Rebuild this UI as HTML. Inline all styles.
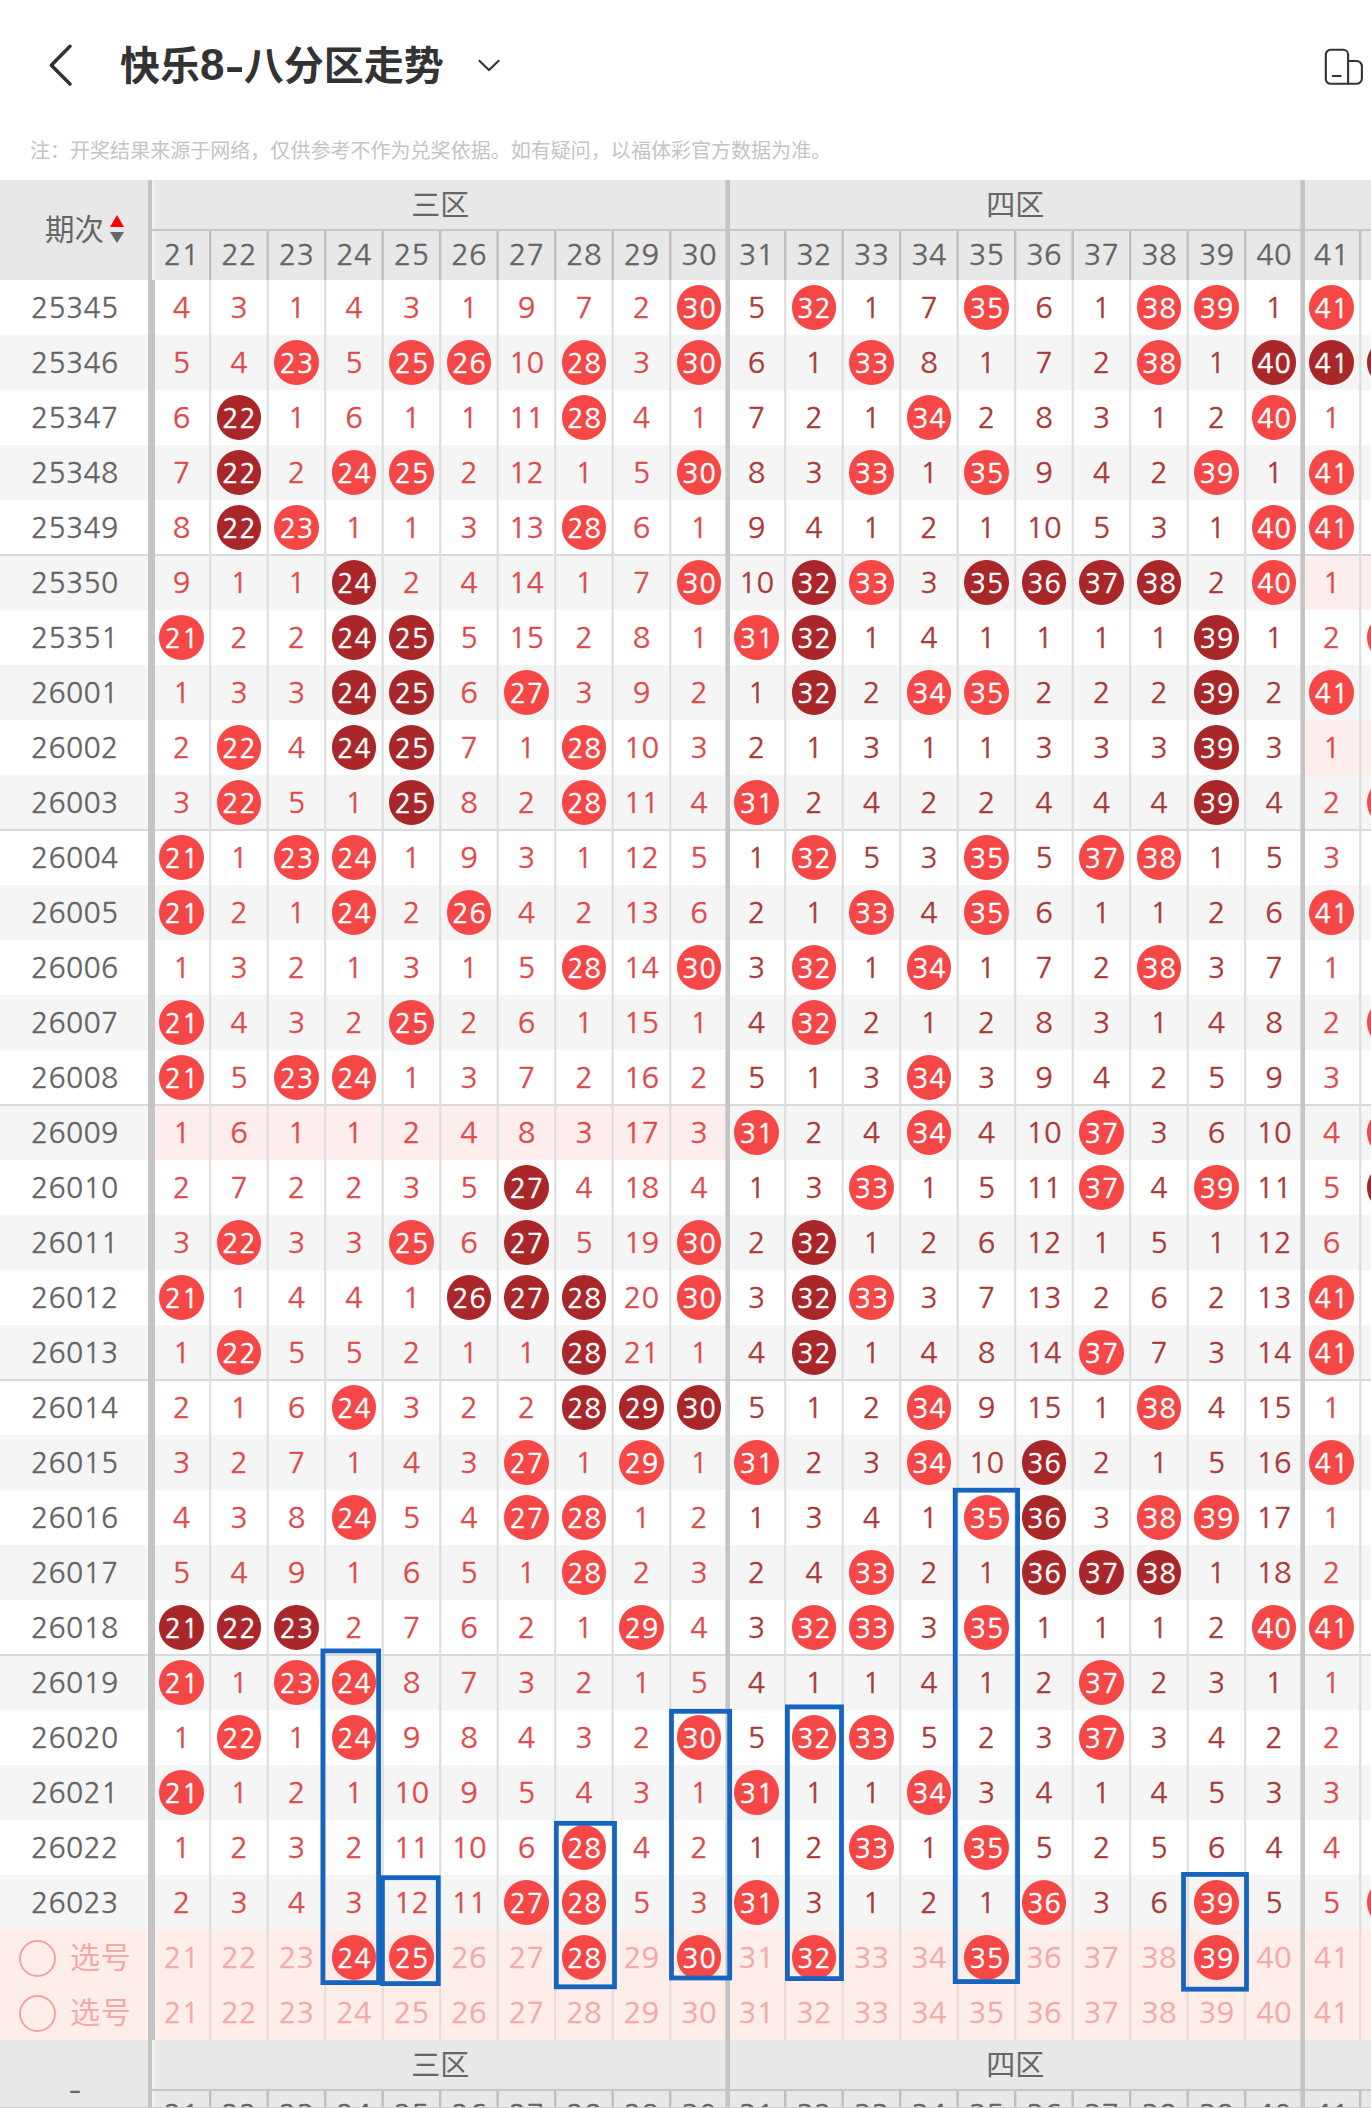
<!DOCTYPE html>
<html lang="zh-CN">
<head>
<meta charset="utf-8">
<title>快乐8-八分区走势</title>
<style>
*{margin:0;padding:0;box-sizing:border-box}
html,body{width:1371px;height:2108px;background:#fff;overflow:hidden}
body{position:relative;font-family:"Liberation Sans","Noto Sans CJK SC",sans-serif;color:#333;font-kerning:none}
#pg{position:absolute;left:0;top:0;width:1371px;height:2108px;overflow:hidden;background:#fff}
#pg i{position:absolute;display:block}
.title{position:absolute;left:120px;top:37px;height:58px;line-height:58px;font-size:40px;font-weight:bold;color:#333;white-space:nowrap;letter-spacing:0}
.t8{font-size:44px;line-height:40px}
.hy{display:inline-block;transform:scaleX(1.45);margin:0 2.5px 0 3.5px}
.note{position:absolute;left:30px;top:136px;height:30px;line-height:30px;font-size:20px;color:#c4c4c4;white-space:nowrap;letter-spacing:.03px}
svg.ic{position:absolute;overflow:visible}
.hbg{position:absolute;left:0;width:1371px;background:#e8e8e8}
.row{position:absolute;left:0;width:1371px;height:55px;line-height:55px;white-space:nowrap}
.rw{background:#fff}.rg{background:#f5f5f5}.rs{background:#ffede9}
.per{position:absolute;left:0;top:.7px;width:149.5px;text-align:center;font-family:NanumGothic,"Liberation Sans",sans-serif;font-size:28.4px;letter-spacing:.25px;color:#646464;-webkit-text-stroke:.3px}
.pk{top:0;height:55px;background:#fdeded}
.n{position:absolute;top:0;width:57.5px;text-align:center;font-family:NanumGothic,"Liberation Sans",sans-serif;font-size:29px;-webkit-text-stroke:.42px}
.z0{color:#dd4a4d}.z1{color:#a93a3a}.zs{color:#f3a9a9}
.c{position:absolute;top:5.3px;width:44.5px;height:44.5px;line-height:48px;padding-left:1px;letter-spacing:1px;border-radius:50%;text-align:center;color:#fff;font-family:NanumGothic,"Liberation Sans",sans-serif;font-size:26.7px;font-weight:normal;-webkit-text-stroke:.6px}
.c.l{background:#f64747}.c.d{background:#a92629}
.radio{left:19px;top:9.5px;width:37px;height:37px;border:2px solid #f2a3a3;border-radius:50%}
.xh{position:absolute;left:70px;top:0;font-size:30px;letter-spacing:.8px;color:#f3a9a9}
.hz{position:absolute;height:50px;line-height:52px;text-align:center;font-size:29px;color:#666}
.hn{position:absolute;width:57.5px;height:50px;line-height:50px;text-align:center;font-family:NanumGothic,"Liberation Sans",sans-serif;font-size:29px;color:#646464;-webkit-text-stroke:.4px}
.qc{position:absolute;left:45px;top:205px;height:50px;line-height:50px;font-size:29.5px;color:#666}
.tu{left:110px;top:215px;width:0;height:0;border-left:7.6px solid transparent;border-right:7.6px solid transparent;border-bottom:12.8px solid #f00}
.td{left:110px;top:232.4px;width:0;height:0;border-left:7.6px solid transparent;border-right:7.6px solid transparent;border-top:11.8px solid #666}
.dash{position:absolute;left:0;top:2065px;width:150px;height:50px;line-height:50px;text-align:center;font-size:30px;color:#666;transform:scaleX(1.3)}
.hl{left:0;width:1371px;height:2.2px;background:#d9d9d9}
.hh{left:152px;width:1219px;height:2px;background:#c6c6c6}
.v0{left:147.7px;width:7.2px;background:#c4c4c4}
.v0h{left:152.3px;width:2.7px;background:#f1f1f1}
.btm{left:0;top:2106.5px;width:1371px;height:1.5px;background:#cfcfcf}
</style>
</head>
<body>
<div id="pg">
<svg class="ic" style="left:40px;top:36px" width="40" height="58" viewBox="40 36 40 58"><path d="M70 46.3 L51.3 65.3 L70 84" fill="none" stroke="#333" stroke-width="3.6" stroke-linecap="round" stroke-linejoin="round"/></svg>
<div class="title">快乐<span class="t8">8</span><span class="hy">-</span>八分区走势</div>
<svg class="ic" style="left:470px;top:50px" width="40" height="30" viewBox="470 50 40 30"><path d="M478.8 60.3 L489 70 L499.2 60.3" fill="none" stroke="#333" stroke-width="2.1" stroke-linecap="butt" stroke-linejoin="miter"/></svg>
<svg class="ic" style="left:1315px;top:40px" width="56" height="56" viewBox="1315 40 56 56"><path d="M1330.6 49.8 H1343.3 A4.8 4.8 0 0 1 1348.1 54.6 V83.8 H1330.6 A4.8 4.8 0 0 1 1325.8 79 V54.6 A4.8 4.8 0 0 1 1330.6 49.8 Z" fill="none" stroke="#333" stroke-width="2.1" stroke-linejoin="round"/><path d="M1348.1 61 H1356.5 A5.4 5.4 0 0 1 1361.9 66.4 V78.4 A5.4 5.4 0 0 1 1356.5 83.8 H1348" fill="none" stroke="#333" stroke-width="2.1"/><path d="M1332.8 76 H1340.6" stroke="#333" stroke-width="2.2" stroke-linecap="round"/></svg>
<div class="note">注：开奖结果来源于网络，仅供参考不作为兑奖依据。如有疑问，以福体彩官方数据为准。</div>
<div class="hbg" style="top:180px;height:100px"></div>
<div class="hbg" style="top:2040px;height:68px"></div>
<div class="row rw" style="top:280px">
<span class="per">25345</span>
<span class="n z0" style="left:152.7px">4</span>
<span class="n z0" style="left:210.2px">3</span>
<span class="n z0" style="left:267.7px">1</span>
<span class="n z0" style="left:325.2px">4</span>
<span class="n z0" style="left:382.7px">3</span>
<span class="n z0" style="left:440.2px">1</span>
<span class="n z0" style="left:497.7px">9</span>
<span class="n z0" style="left:555.2px">7</span>
<span class="n z0" style="left:612.7px">2</span>
<b class="c l" style="left:676.7px">30</b>
<span class="n z1" style="left:727.7px">5</span>
<b class="c l" style="left:791.7px">32</b>
<span class="n z1" style="left:842.7px">1</span>
<span class="n z1" style="left:900.2px">7</span>
<b class="c l" style="left:964.2px">35</b>
<span class="n z1" style="left:1015.2px">6</span>
<span class="n z1" style="left:1072.7px">1</span>
<b class="c l" style="left:1136.7px">38</b>
<b class="c l" style="left:1194.2px">39</b>
<span class="n z1" style="left:1245.2px">1</span>
<b class="c l" style="left:1309.2px">41</b>
</div>
<div class="row rg" style="top:335px">
<span class="per">25346</span>
<span class="n z0" style="left:152.7px">5</span>
<span class="n z0" style="left:210.2px">4</span>
<b class="c l" style="left:274.2px">23</b>
<span class="n z0" style="left:325.2px">5</span>
<b class="c l" style="left:389.2px">25</b>
<b class="c l" style="left:446.7px">26</b>
<span class="n z0" style="left:497.7px">10</span>
<b class="c l" style="left:561.7px">28</b>
<span class="n z0" style="left:612.7px">3</span>
<b class="c l" style="left:676.7px">30</b>
<span class="n z1" style="left:727.7px">6</span>
<span class="n z1" style="left:785.2px">1</span>
<b class="c l" style="left:849.2px">33</b>
<span class="n z1" style="left:900.2px">8</span>
<span class="n z1" style="left:957.7px">1</span>
<span class="n z1" style="left:1015.2px">7</span>
<span class="n z1" style="left:1072.7px">2</span>
<b class="c l" style="left:1136.7px">38</b>
<span class="n z1" style="left:1187.7px">1</span>
<b class="c d" style="left:1251.7px">40</b>
<b class="c d" style="left:1309.2px">41</b>
<b class="c d" style="left:1366.7px">42</b>
</div>
<div class="row rw" style="top:390px">
<span class="per">25347</span>
<span class="n z0" style="left:152.7px">6</span>
<b class="c d" style="left:216.7px">22</b>
<span class="n z0" style="left:267.7px">1</span>
<span class="n z0" style="left:325.2px">6</span>
<span class="n z0" style="left:382.7px">1</span>
<span class="n z0" style="left:440.2px">1</span>
<span class="n z0" style="left:497.7px">11</span>
<b class="c l" style="left:561.7px">28</b>
<span class="n z0" style="left:612.7px">4</span>
<span class="n z0" style="left:670.2px">1</span>
<span class="n z1" style="left:727.7px">7</span>
<span class="n z1" style="left:785.2px">2</span>
<span class="n z1" style="left:842.7px">1</span>
<b class="c l" style="left:906.7px">34</b>
<span class="n z1" style="left:957.7px">2</span>
<span class="n z1" style="left:1015.2px">8</span>
<span class="n z1" style="left:1072.7px">3</span>
<span class="n z1" style="left:1130.2px">1</span>
<span class="n z1" style="left:1187.7px">2</span>
<b class="c l" style="left:1251.7px">40</b>
<span class="n z0" style="left:1302.7px">1</span>
</div>
<div class="row rg" style="top:445px">
<span class="per">25348</span>
<span class="n z0" style="left:152.7px">7</span>
<b class="c d" style="left:216.7px">22</b>
<span class="n z0" style="left:267.7px">2</span>
<b class="c l" style="left:331.7px">24</b>
<b class="c l" style="left:389.2px">25</b>
<span class="n z0" style="left:440.2px">2</span>
<span class="n z0" style="left:497.7px">12</span>
<span class="n z0" style="left:555.2px">1</span>
<span class="n z0" style="left:612.7px">5</span>
<b class="c l" style="left:676.7px">30</b>
<span class="n z1" style="left:727.7px">8</span>
<span class="n z1" style="left:785.2px">3</span>
<b class="c l" style="left:849.2px">33</b>
<span class="n z1" style="left:900.2px">1</span>
<b class="c l" style="left:964.2px">35</b>
<span class="n z1" style="left:1015.2px">9</span>
<span class="n z1" style="left:1072.7px">4</span>
<span class="n z1" style="left:1130.2px">2</span>
<b class="c l" style="left:1194.2px">39</b>
<span class="n z1" style="left:1245.2px">1</span>
<b class="c l" style="left:1309.2px">41</b>
</div>
<div class="row rw" style="top:500px">
<span class="per">25349</span>
<span class="n z0" style="left:152.7px">8</span>
<b class="c d" style="left:216.7px">22</b>
<b class="c l" style="left:274.2px">23</b>
<span class="n z0" style="left:325.2px">1</span>
<span class="n z0" style="left:382.7px">1</span>
<span class="n z0" style="left:440.2px">3</span>
<span class="n z0" style="left:497.7px">13</span>
<b class="c l" style="left:561.7px">28</b>
<span class="n z0" style="left:612.7px">6</span>
<span class="n z0" style="left:670.2px">1</span>
<span class="n z1" style="left:727.7px">9</span>
<span class="n z1" style="left:785.2px">4</span>
<span class="n z1" style="left:842.7px">1</span>
<span class="n z1" style="left:900.2px">2</span>
<span class="n z1" style="left:957.7px">1</span>
<span class="n z1" style="left:1015.2px">10</span>
<span class="n z1" style="left:1072.7px">5</span>
<span class="n z1" style="left:1130.2px">3</span>
<span class="n z1" style="left:1187.7px">1</span>
<b class="c l" style="left:1251.7px">40</b>
<b class="c l" style="left:1309.2px">41</b>
</div>
<div class="row rg" style="top:555px">
<span class="per">25350</span>
<i class="pk" style="left:1302.7px;width:68.3px"></i>
<span class="n z0" style="left:152.7px">9</span>
<span class="n z0" style="left:210.2px">1</span>
<span class="n z0" style="left:267.7px">1</span>
<b class="c d" style="left:331.7px">24</b>
<span class="n z0" style="left:382.7px">2</span>
<span class="n z0" style="left:440.2px">4</span>
<span class="n z0" style="left:497.7px">14</span>
<span class="n z0" style="left:555.2px">1</span>
<span class="n z0" style="left:612.7px">7</span>
<b class="c l" style="left:676.7px">30</b>
<span class="n z1" style="left:727.7px">10</span>
<b class="c d" style="left:791.7px">32</b>
<b class="c l" style="left:849.2px">33</b>
<span class="n z1" style="left:900.2px">3</span>
<b class="c d" style="left:964.2px">35</b>
<b class="c d" style="left:1021.7px">36</b>
<b class="c d" style="left:1079.2px">37</b>
<b class="c d" style="left:1136.7px">38</b>
<span class="n z1" style="left:1187.7px">2</span>
<b class="c l" style="left:1251.7px">40</b>
<span class="n z0" style="left:1302.7px">1</span>
</div>
<div class="row rw" style="top:610px">
<span class="per">25351</span>
<b class="c l" style="left:159.2px">21</b>
<span class="n z0" style="left:210.2px">2</span>
<span class="n z0" style="left:267.7px">2</span>
<b class="c d" style="left:331.7px">24</b>
<b class="c d" style="left:389.2px">25</b>
<span class="n z0" style="left:440.2px">5</span>
<span class="n z0" style="left:497.7px">15</span>
<span class="n z0" style="left:555.2px">2</span>
<span class="n z0" style="left:612.7px">8</span>
<span class="n z0" style="left:670.2px">1</span>
<b class="c l" style="left:734.2px">31</b>
<b class="c d" style="left:791.7px">32</b>
<span class="n z1" style="left:842.7px">1</span>
<span class="n z1" style="left:900.2px">4</span>
<span class="n z1" style="left:957.7px">1</span>
<span class="n z1" style="left:1015.2px">1</span>
<span class="n z1" style="left:1072.7px">1</span>
<span class="n z1" style="left:1130.2px">1</span>
<b class="c d" style="left:1194.2px">39</b>
<span class="n z1" style="left:1245.2px">1</span>
<span class="n z0" style="left:1302.7px">2</span>
<b class="c l" style="left:1366.7px">42</b>
</div>
<div class="row rg" style="top:665px">
<span class="per">26001</span>
<span class="n z0" style="left:152.7px">1</span>
<span class="n z0" style="left:210.2px">3</span>
<span class="n z0" style="left:267.7px">3</span>
<b class="c d" style="left:331.7px">24</b>
<b class="c d" style="left:389.2px">25</b>
<span class="n z0" style="left:440.2px">6</span>
<b class="c l" style="left:504.2px">27</b>
<span class="n z0" style="left:555.2px">3</span>
<span class="n z0" style="left:612.7px">9</span>
<span class="n z0" style="left:670.2px">2</span>
<span class="n z1" style="left:727.7px">1</span>
<b class="c d" style="left:791.7px">32</b>
<span class="n z1" style="left:842.7px">2</span>
<b class="c l" style="left:906.7px">34</b>
<b class="c l" style="left:964.2px">35</b>
<span class="n z1" style="left:1015.2px">2</span>
<span class="n z1" style="left:1072.7px">2</span>
<span class="n z1" style="left:1130.2px">2</span>
<b class="c d" style="left:1194.2px">39</b>
<span class="n z1" style="left:1245.2px">2</span>
<b class="c l" style="left:1309.2px">41</b>
</div>
<div class="row rw" style="top:720px">
<span class="per">26002</span>
<i class="pk" style="left:1302.7px;width:68.3px"></i>
<span class="n z0" style="left:152.7px">2</span>
<b class="c l" style="left:216.7px">22</b>
<span class="n z0" style="left:267.7px">4</span>
<b class="c d" style="left:331.7px">24</b>
<b class="c d" style="left:389.2px">25</b>
<span class="n z0" style="left:440.2px">7</span>
<span class="n z0" style="left:497.7px">1</span>
<b class="c l" style="left:561.7px">28</b>
<span class="n z0" style="left:612.7px">10</span>
<span class="n z0" style="left:670.2px">3</span>
<span class="n z1" style="left:727.7px">2</span>
<span class="n z1" style="left:785.2px">1</span>
<span class="n z1" style="left:842.7px">3</span>
<span class="n z1" style="left:900.2px">1</span>
<span class="n z1" style="left:957.7px">1</span>
<span class="n z1" style="left:1015.2px">3</span>
<span class="n z1" style="left:1072.7px">3</span>
<span class="n z1" style="left:1130.2px">3</span>
<b class="c d" style="left:1194.2px">39</b>
<span class="n z1" style="left:1245.2px">3</span>
<span class="n z0" style="left:1302.7px">1</span>
</div>
<div class="row rg" style="top:775px">
<span class="per">26003</span>
<span class="n z0" style="left:152.7px">3</span>
<b class="c l" style="left:216.7px">22</b>
<span class="n z0" style="left:267.7px">5</span>
<span class="n z0" style="left:325.2px">1</span>
<b class="c d" style="left:389.2px">25</b>
<span class="n z0" style="left:440.2px">8</span>
<span class="n z0" style="left:497.7px">2</span>
<b class="c l" style="left:561.7px">28</b>
<span class="n z0" style="left:612.7px">11</span>
<span class="n z0" style="left:670.2px">4</span>
<b class="c l" style="left:734.2px">31</b>
<span class="n z1" style="left:785.2px">2</span>
<span class="n z1" style="left:842.7px">4</span>
<span class="n z1" style="left:900.2px">2</span>
<span class="n z1" style="left:957.7px">2</span>
<span class="n z1" style="left:1015.2px">4</span>
<span class="n z1" style="left:1072.7px">4</span>
<span class="n z1" style="left:1130.2px">4</span>
<b class="c d" style="left:1194.2px">39</b>
<span class="n z1" style="left:1245.2px">4</span>
<span class="n z0" style="left:1302.7px">2</span>
<b class="c l" style="left:1366.7px">42</b>
</div>
<div class="row rw" style="top:830px">
<span class="per">26004</span>
<b class="c l" style="left:159.2px">21</b>
<span class="n z0" style="left:210.2px">1</span>
<b class="c l" style="left:274.2px">23</b>
<b class="c l" style="left:331.7px">24</b>
<span class="n z0" style="left:382.7px">1</span>
<span class="n z0" style="left:440.2px">9</span>
<span class="n z0" style="left:497.7px">3</span>
<span class="n z0" style="left:555.2px">1</span>
<span class="n z0" style="left:612.7px">12</span>
<span class="n z0" style="left:670.2px">5</span>
<span class="n z1" style="left:727.7px">1</span>
<b class="c l" style="left:791.7px">32</b>
<span class="n z1" style="left:842.7px">5</span>
<span class="n z1" style="left:900.2px">3</span>
<b class="c l" style="left:964.2px">35</b>
<span class="n z1" style="left:1015.2px">5</span>
<b class="c l" style="left:1079.2px">37</b>
<b class="c l" style="left:1136.7px">38</b>
<span class="n z1" style="left:1187.7px">1</span>
<span class="n z1" style="left:1245.2px">5</span>
<span class="n z0" style="left:1302.7px">3</span>
</div>
<div class="row rg" style="top:885px">
<span class="per">26005</span>
<b class="c l" style="left:159.2px">21</b>
<span class="n z0" style="left:210.2px">2</span>
<span class="n z0" style="left:267.7px">1</span>
<b class="c l" style="left:331.7px">24</b>
<span class="n z0" style="left:382.7px">2</span>
<b class="c l" style="left:446.7px">26</b>
<span class="n z0" style="left:497.7px">4</span>
<span class="n z0" style="left:555.2px">2</span>
<span class="n z0" style="left:612.7px">13</span>
<span class="n z0" style="left:670.2px">6</span>
<span class="n z1" style="left:727.7px">2</span>
<span class="n z1" style="left:785.2px">1</span>
<b class="c l" style="left:849.2px">33</b>
<span class="n z1" style="left:900.2px">4</span>
<b class="c l" style="left:964.2px">35</b>
<span class="n z1" style="left:1015.2px">6</span>
<span class="n z1" style="left:1072.7px">1</span>
<span class="n z1" style="left:1130.2px">1</span>
<span class="n z1" style="left:1187.7px">2</span>
<span class="n z1" style="left:1245.2px">6</span>
<b class="c l" style="left:1309.2px">41</b>
</div>
<div class="row rw" style="top:940px">
<span class="per">26006</span>
<span class="n z0" style="left:152.7px">1</span>
<span class="n z0" style="left:210.2px">3</span>
<span class="n z0" style="left:267.7px">2</span>
<span class="n z0" style="left:325.2px">1</span>
<span class="n z0" style="left:382.7px">3</span>
<span class="n z0" style="left:440.2px">1</span>
<span class="n z0" style="left:497.7px">5</span>
<b class="c l" style="left:561.7px">28</b>
<span class="n z0" style="left:612.7px">14</span>
<b class="c l" style="left:676.7px">30</b>
<span class="n z1" style="left:727.7px">3</span>
<b class="c l" style="left:791.7px">32</b>
<span class="n z1" style="left:842.7px">1</span>
<b class="c l" style="left:906.7px">34</b>
<span class="n z1" style="left:957.7px">1</span>
<span class="n z1" style="left:1015.2px">7</span>
<span class="n z1" style="left:1072.7px">2</span>
<b class="c l" style="left:1136.7px">38</b>
<span class="n z1" style="left:1187.7px">3</span>
<span class="n z1" style="left:1245.2px">7</span>
<span class="n z0" style="left:1302.7px">1</span>
</div>
<div class="row rg" style="top:995px">
<span class="per">26007</span>
<b class="c l" style="left:159.2px">21</b>
<span class="n z0" style="left:210.2px">4</span>
<span class="n z0" style="left:267.7px">3</span>
<span class="n z0" style="left:325.2px">2</span>
<b class="c l" style="left:389.2px">25</b>
<span class="n z0" style="left:440.2px">2</span>
<span class="n z0" style="left:497.7px">6</span>
<span class="n z0" style="left:555.2px">1</span>
<span class="n z0" style="left:612.7px">15</span>
<span class="n z0" style="left:670.2px">1</span>
<span class="n z1" style="left:727.7px">4</span>
<b class="c l" style="left:791.7px">32</b>
<span class="n z1" style="left:842.7px">2</span>
<span class="n z1" style="left:900.2px">1</span>
<span class="n z1" style="left:957.7px">2</span>
<span class="n z1" style="left:1015.2px">8</span>
<span class="n z1" style="left:1072.7px">3</span>
<span class="n z1" style="left:1130.2px">1</span>
<span class="n z1" style="left:1187.7px">4</span>
<span class="n z1" style="left:1245.2px">8</span>
<span class="n z0" style="left:1302.7px">2</span>
<b class="c l" style="left:1366.7px">42</b>
</div>
<div class="row rw" style="top:1050px">
<span class="per">26008</span>
<b class="c l" style="left:159.2px">21</b>
<span class="n z0" style="left:210.2px">5</span>
<b class="c l" style="left:274.2px">23</b>
<b class="c l" style="left:331.7px">24</b>
<span class="n z0" style="left:382.7px">1</span>
<span class="n z0" style="left:440.2px">3</span>
<span class="n z0" style="left:497.7px">7</span>
<span class="n z0" style="left:555.2px">2</span>
<span class="n z0" style="left:612.7px">16</span>
<span class="n z0" style="left:670.2px">2</span>
<span class="n z1" style="left:727.7px">5</span>
<span class="n z1" style="left:785.2px">1</span>
<span class="n z1" style="left:842.7px">3</span>
<b class="c l" style="left:906.7px">34</b>
<span class="n z1" style="left:957.7px">3</span>
<span class="n z1" style="left:1015.2px">9</span>
<span class="n z1" style="left:1072.7px">4</span>
<span class="n z1" style="left:1130.2px">2</span>
<span class="n z1" style="left:1187.7px">5</span>
<span class="n z1" style="left:1245.2px">9</span>
<span class="n z0" style="left:1302.7px">3</span>
</div>
<div class="row rg" style="top:1105px">
<span class="per">26009</span>
<i class="pk" style="left:152.7px;width:575px"></i>
<span class="n z0" style="left:152.7px">1</span>
<span class="n z0" style="left:210.2px">6</span>
<span class="n z0" style="left:267.7px">1</span>
<span class="n z0" style="left:325.2px">1</span>
<span class="n z0" style="left:382.7px">2</span>
<span class="n z0" style="left:440.2px">4</span>
<span class="n z0" style="left:497.7px">8</span>
<span class="n z0" style="left:555.2px">3</span>
<span class="n z0" style="left:612.7px">17</span>
<span class="n z0" style="left:670.2px">3</span>
<b class="c l" style="left:734.2px">31</b>
<span class="n z1" style="left:785.2px">2</span>
<span class="n z1" style="left:842.7px">4</span>
<b class="c l" style="left:906.7px">34</b>
<span class="n z1" style="left:957.7px">4</span>
<span class="n z1" style="left:1015.2px">10</span>
<b class="c l" style="left:1079.2px">37</b>
<span class="n z1" style="left:1130.2px">3</span>
<span class="n z1" style="left:1187.7px">6</span>
<span class="n z1" style="left:1245.2px">10</span>
<span class="n z0" style="left:1302.7px">4</span>
<b class="c l" style="left:1366.7px">42</b>
</div>
<div class="row rw" style="top:1160px">
<span class="per">26010</span>
<span class="n z0" style="left:152.7px">2</span>
<span class="n z0" style="left:210.2px">7</span>
<span class="n z0" style="left:267.7px">2</span>
<span class="n z0" style="left:325.2px">2</span>
<span class="n z0" style="left:382.7px">3</span>
<span class="n z0" style="left:440.2px">5</span>
<b class="c d" style="left:504.2px">27</b>
<span class="n z0" style="left:555.2px">4</span>
<span class="n z0" style="left:612.7px">18</span>
<span class="n z0" style="left:670.2px">4</span>
<span class="n z1" style="left:727.7px">1</span>
<span class="n z1" style="left:785.2px">3</span>
<b class="c l" style="left:849.2px">33</b>
<span class="n z1" style="left:900.2px">1</span>
<span class="n z1" style="left:957.7px">5</span>
<span class="n z1" style="left:1015.2px">11</span>
<b class="c l" style="left:1079.2px">37</b>
<span class="n z1" style="left:1130.2px">4</span>
<b class="c l" style="left:1194.2px">39</b>
<span class="n z1" style="left:1245.2px">11</span>
<span class="n z0" style="left:1302.7px">5</span>
<b class="c d" style="left:1366.7px">42</b>
</div>
<div class="row rg" style="top:1215px">
<span class="per">26011</span>
<span class="n z0" style="left:152.7px">3</span>
<b class="c l" style="left:216.7px">22</b>
<span class="n z0" style="left:267.7px">3</span>
<span class="n z0" style="left:325.2px">3</span>
<b class="c l" style="left:389.2px">25</b>
<span class="n z0" style="left:440.2px">6</span>
<b class="c d" style="left:504.2px">27</b>
<span class="n z0" style="left:555.2px">5</span>
<span class="n z0" style="left:612.7px">19</span>
<b class="c l" style="left:676.7px">30</b>
<span class="n z1" style="left:727.7px">2</span>
<b class="c d" style="left:791.7px">32</b>
<span class="n z1" style="left:842.7px">1</span>
<span class="n z1" style="left:900.2px">2</span>
<span class="n z1" style="left:957.7px">6</span>
<span class="n z1" style="left:1015.2px">12</span>
<span class="n z1" style="left:1072.7px">1</span>
<span class="n z1" style="left:1130.2px">5</span>
<span class="n z1" style="left:1187.7px">1</span>
<span class="n z1" style="left:1245.2px">12</span>
<span class="n z0" style="left:1302.7px">6</span>
</div>
<div class="row rw" style="top:1270px">
<span class="per">26012</span>
<b class="c l" style="left:159.2px">21</b>
<span class="n z0" style="left:210.2px">1</span>
<span class="n z0" style="left:267.7px">4</span>
<span class="n z0" style="left:325.2px">4</span>
<span class="n z0" style="left:382.7px">1</span>
<b class="c d" style="left:446.7px">26</b>
<b class="c d" style="left:504.2px">27</b>
<b class="c d" style="left:561.7px">28</b>
<span class="n z0" style="left:612.7px">20</span>
<b class="c l" style="left:676.7px">30</b>
<span class="n z1" style="left:727.7px">3</span>
<b class="c d" style="left:791.7px">32</b>
<b class="c l" style="left:849.2px">33</b>
<span class="n z1" style="left:900.2px">3</span>
<span class="n z1" style="left:957.7px">7</span>
<span class="n z1" style="left:1015.2px">13</span>
<span class="n z1" style="left:1072.7px">2</span>
<span class="n z1" style="left:1130.2px">6</span>
<span class="n z1" style="left:1187.7px">2</span>
<span class="n z1" style="left:1245.2px">13</span>
<b class="c l" style="left:1309.2px">41</b>
</div>
<div class="row rg" style="top:1325px">
<span class="per">26013</span>
<span class="n z0" style="left:152.7px">1</span>
<b class="c l" style="left:216.7px">22</b>
<span class="n z0" style="left:267.7px">5</span>
<span class="n z0" style="left:325.2px">5</span>
<span class="n z0" style="left:382.7px">2</span>
<span class="n z0" style="left:440.2px">1</span>
<span class="n z0" style="left:497.7px">1</span>
<b class="c d" style="left:561.7px">28</b>
<span class="n z0" style="left:612.7px">21</span>
<span class="n z0" style="left:670.2px">1</span>
<span class="n z1" style="left:727.7px">4</span>
<b class="c d" style="left:791.7px">32</b>
<span class="n z1" style="left:842.7px">1</span>
<span class="n z1" style="left:900.2px">4</span>
<span class="n z1" style="left:957.7px">8</span>
<span class="n z1" style="left:1015.2px">14</span>
<b class="c l" style="left:1079.2px">37</b>
<span class="n z1" style="left:1130.2px">7</span>
<span class="n z1" style="left:1187.7px">3</span>
<span class="n z1" style="left:1245.2px">14</span>
<b class="c l" style="left:1309.2px">41</b>
</div>
<div class="row rw" style="top:1380px">
<span class="per">26014</span>
<span class="n z0" style="left:152.7px">2</span>
<span class="n z0" style="left:210.2px">1</span>
<span class="n z0" style="left:267.7px">6</span>
<b class="c l" style="left:331.7px">24</b>
<span class="n z0" style="left:382.7px">3</span>
<span class="n z0" style="left:440.2px">2</span>
<span class="n z0" style="left:497.7px">2</span>
<b class="c d" style="left:561.7px">28</b>
<b class="c d" style="left:619.2px">29</b>
<b class="c d" style="left:676.7px">30</b>
<span class="n z1" style="left:727.7px">5</span>
<span class="n z1" style="left:785.2px">1</span>
<span class="n z1" style="left:842.7px">2</span>
<b class="c l" style="left:906.7px">34</b>
<span class="n z1" style="left:957.7px">9</span>
<span class="n z1" style="left:1015.2px">15</span>
<span class="n z1" style="left:1072.7px">1</span>
<b class="c l" style="left:1136.7px">38</b>
<span class="n z1" style="left:1187.7px">4</span>
<span class="n z1" style="left:1245.2px">15</span>
<span class="n z0" style="left:1302.7px">1</span>
</div>
<div class="row rg" style="top:1435px">
<span class="per">26015</span>
<span class="n z0" style="left:152.7px">3</span>
<span class="n z0" style="left:210.2px">2</span>
<span class="n z0" style="left:267.7px">7</span>
<span class="n z0" style="left:325.2px">1</span>
<span class="n z0" style="left:382.7px">4</span>
<span class="n z0" style="left:440.2px">3</span>
<b class="c l" style="left:504.2px">27</b>
<span class="n z0" style="left:555.2px">1</span>
<b class="c l" style="left:619.2px">29</b>
<span class="n z0" style="left:670.2px">1</span>
<b class="c l" style="left:734.2px">31</b>
<span class="n z1" style="left:785.2px">2</span>
<span class="n z1" style="left:842.7px">3</span>
<b class="c l" style="left:906.7px">34</b>
<span class="n z1" style="left:957.7px">10</span>
<b class="c d" style="left:1021.7px">36</b>
<span class="n z1" style="left:1072.7px">2</span>
<span class="n z1" style="left:1130.2px">1</span>
<span class="n z1" style="left:1187.7px">5</span>
<span class="n z1" style="left:1245.2px">16</span>
<b class="c l" style="left:1309.2px">41</b>
</div>
<div class="row rw" style="top:1490px">
<span class="per">26016</span>
<span class="n z0" style="left:152.7px">4</span>
<span class="n z0" style="left:210.2px">3</span>
<span class="n z0" style="left:267.7px">8</span>
<b class="c l" style="left:331.7px">24</b>
<span class="n z0" style="left:382.7px">5</span>
<span class="n z0" style="left:440.2px">4</span>
<b class="c l" style="left:504.2px">27</b>
<b class="c l" style="left:561.7px">28</b>
<span class="n z0" style="left:612.7px">1</span>
<span class="n z0" style="left:670.2px">2</span>
<span class="n z1" style="left:727.7px">1</span>
<span class="n z1" style="left:785.2px">3</span>
<span class="n z1" style="left:842.7px">4</span>
<span class="n z1" style="left:900.2px">1</span>
<b class="c l" style="left:964.2px">35</b>
<b class="c d" style="left:1021.7px">36</b>
<span class="n z1" style="left:1072.7px">3</span>
<b class="c l" style="left:1136.7px">38</b>
<b class="c l" style="left:1194.2px">39</b>
<span class="n z1" style="left:1245.2px">17</span>
<span class="n z0" style="left:1302.7px">1</span>
</div>
<div class="row rg" style="top:1545px">
<span class="per">26017</span>
<span class="n z0" style="left:152.7px">5</span>
<span class="n z0" style="left:210.2px">4</span>
<span class="n z0" style="left:267.7px">9</span>
<span class="n z0" style="left:325.2px">1</span>
<span class="n z0" style="left:382.7px">6</span>
<span class="n z0" style="left:440.2px">5</span>
<span class="n z0" style="left:497.7px">1</span>
<b class="c l" style="left:561.7px">28</b>
<span class="n z0" style="left:612.7px">2</span>
<span class="n z0" style="left:670.2px">3</span>
<span class="n z1" style="left:727.7px">2</span>
<span class="n z1" style="left:785.2px">4</span>
<b class="c l" style="left:849.2px">33</b>
<span class="n z1" style="left:900.2px">2</span>
<span class="n z1" style="left:957.7px">1</span>
<b class="c d" style="left:1021.7px">36</b>
<b class="c d" style="left:1079.2px">37</b>
<b class="c d" style="left:1136.7px">38</b>
<span class="n z1" style="left:1187.7px">1</span>
<span class="n z1" style="left:1245.2px">18</span>
<span class="n z0" style="left:1302.7px">2</span>
</div>
<div class="row rw" style="top:1600px">
<span class="per">26018</span>
<b class="c d" style="left:159.2px">21</b>
<b class="c d" style="left:216.7px">22</b>
<b class="c d" style="left:274.2px">23</b>
<span class="n z0" style="left:325.2px">2</span>
<span class="n z0" style="left:382.7px">7</span>
<span class="n z0" style="left:440.2px">6</span>
<span class="n z0" style="left:497.7px">2</span>
<span class="n z0" style="left:555.2px">1</span>
<b class="c l" style="left:619.2px">29</b>
<span class="n z0" style="left:670.2px">4</span>
<span class="n z1" style="left:727.7px">3</span>
<b class="c l" style="left:791.7px">32</b>
<b class="c l" style="left:849.2px">33</b>
<span class="n z1" style="left:900.2px">3</span>
<b class="c l" style="left:964.2px">35</b>
<span class="n z1" style="left:1015.2px">1</span>
<span class="n z1" style="left:1072.7px">1</span>
<span class="n z1" style="left:1130.2px">1</span>
<span class="n z1" style="left:1187.7px">2</span>
<b class="c l" style="left:1251.7px">40</b>
<b class="c l" style="left:1309.2px">41</b>
</div>
<div class="row rg" style="top:1655px">
<span class="per">26019</span>
<b class="c l" style="left:159.2px">21</b>
<span class="n z0" style="left:210.2px">1</span>
<b class="c l" style="left:274.2px">23</b>
<b class="c l" style="left:331.7px">24</b>
<span class="n z0" style="left:382.7px">8</span>
<span class="n z0" style="left:440.2px">7</span>
<span class="n z0" style="left:497.7px">3</span>
<span class="n z0" style="left:555.2px">2</span>
<span class="n z0" style="left:612.7px">1</span>
<span class="n z0" style="left:670.2px">5</span>
<span class="n z1" style="left:727.7px">4</span>
<span class="n z1" style="left:785.2px">1</span>
<span class="n z1" style="left:842.7px">1</span>
<span class="n z1" style="left:900.2px">4</span>
<span class="n z1" style="left:957.7px">1</span>
<span class="n z1" style="left:1015.2px">2</span>
<b class="c l" style="left:1079.2px">37</b>
<span class="n z1" style="left:1130.2px">2</span>
<span class="n z1" style="left:1187.7px">3</span>
<span class="n z1" style="left:1245.2px">1</span>
<span class="n z0" style="left:1302.7px">1</span>
</div>
<div class="row rw" style="top:1710px">
<span class="per">26020</span>
<span class="n z0" style="left:152.7px">1</span>
<b class="c l" style="left:216.7px">22</b>
<span class="n z0" style="left:267.7px">1</span>
<b class="c l" style="left:331.7px">24</b>
<span class="n z0" style="left:382.7px">9</span>
<span class="n z0" style="left:440.2px">8</span>
<span class="n z0" style="left:497.7px">4</span>
<span class="n z0" style="left:555.2px">3</span>
<span class="n z0" style="left:612.7px">2</span>
<b class="c l" style="left:676.7px">30</b>
<span class="n z1" style="left:727.7px">5</span>
<b class="c l" style="left:791.7px">32</b>
<b class="c l" style="left:849.2px">33</b>
<span class="n z1" style="left:900.2px">5</span>
<span class="n z1" style="left:957.7px">2</span>
<span class="n z1" style="left:1015.2px">3</span>
<b class="c l" style="left:1079.2px">37</b>
<span class="n z1" style="left:1130.2px">3</span>
<span class="n z1" style="left:1187.7px">4</span>
<span class="n z1" style="left:1245.2px">2</span>
<span class="n z0" style="left:1302.7px">2</span>
</div>
<div class="row rg" style="top:1765px">
<span class="per">26021</span>
<b class="c l" style="left:159.2px">21</b>
<span class="n z0" style="left:210.2px">1</span>
<span class="n z0" style="left:267.7px">2</span>
<span class="n z0" style="left:325.2px">1</span>
<span class="n z0" style="left:382.7px">10</span>
<span class="n z0" style="left:440.2px">9</span>
<span class="n z0" style="left:497.7px">5</span>
<span class="n z0" style="left:555.2px">4</span>
<span class="n z0" style="left:612.7px">3</span>
<span class="n z0" style="left:670.2px">1</span>
<b class="c l" style="left:734.2px">31</b>
<span class="n z1" style="left:785.2px">1</span>
<span class="n z1" style="left:842.7px">1</span>
<b class="c l" style="left:906.7px">34</b>
<span class="n z1" style="left:957.7px">3</span>
<span class="n z1" style="left:1015.2px">4</span>
<span class="n z1" style="left:1072.7px">1</span>
<span class="n z1" style="left:1130.2px">4</span>
<span class="n z1" style="left:1187.7px">5</span>
<span class="n z1" style="left:1245.2px">3</span>
<span class="n z0" style="left:1302.7px">3</span>
</div>
<div class="row rw" style="top:1820px">
<span class="per">26022</span>
<span class="n z0" style="left:152.7px">1</span>
<span class="n z0" style="left:210.2px">2</span>
<span class="n z0" style="left:267.7px">3</span>
<span class="n z0" style="left:325.2px">2</span>
<span class="n z0" style="left:382.7px">11</span>
<span class="n z0" style="left:440.2px">10</span>
<span class="n z0" style="left:497.7px">6</span>
<b class="c l" style="left:561.7px">28</b>
<span class="n z0" style="left:612.7px">4</span>
<span class="n z0" style="left:670.2px">2</span>
<span class="n z1" style="left:727.7px">1</span>
<span class="n z1" style="left:785.2px">2</span>
<b class="c l" style="left:849.2px">33</b>
<span class="n z1" style="left:900.2px">1</span>
<b class="c l" style="left:964.2px">35</b>
<span class="n z1" style="left:1015.2px">5</span>
<span class="n z1" style="left:1072.7px">2</span>
<span class="n z1" style="left:1130.2px">5</span>
<span class="n z1" style="left:1187.7px">6</span>
<span class="n z1" style="left:1245.2px">4</span>
<span class="n z0" style="left:1302.7px">4</span>
</div>
<div class="row rg" style="top:1875px">
<span class="per">26023</span>
<span class="n z0" style="left:152.7px">2</span>
<span class="n z0" style="left:210.2px">3</span>
<span class="n z0" style="left:267.7px">4</span>
<span class="n z0" style="left:325.2px">3</span>
<span class="n z0" style="left:382.7px">12</span>
<span class="n z0" style="left:440.2px">11</span>
<b class="c l" style="left:504.2px">27</b>
<b class="c l" style="left:561.7px">28</b>
<span class="n z0" style="left:612.7px">5</span>
<span class="n z0" style="left:670.2px">3</span>
<b class="c l" style="left:734.2px">31</b>
<span class="n z1" style="left:785.2px">3</span>
<span class="n z1" style="left:842.7px">1</span>
<span class="n z1" style="left:900.2px">2</span>
<span class="n z1" style="left:957.7px">1</span>
<b class="c l" style="left:1021.7px">36</b>
<span class="n z1" style="left:1072.7px">3</span>
<span class="n z1" style="left:1130.2px">6</span>
<b class="c l" style="left:1194.2px">39</b>
<span class="n z1" style="left:1245.2px">5</span>
<span class="n z0" style="left:1302.7px">5</span>
<b class="c l" style="left:1366.7px">42</b>
</div>
<div class="row rs" style="top:1930px">
<i class="radio"></i><span class="xh">选号</span>
<span class="n zs" style="left:152.7px">21</span>
<span class="n zs" style="left:210.2px">22</span>
<span class="n zs" style="left:267.7px">23</span>
<b class="c l" style="left:331.7px">24</b>
<b class="c l" style="left:389.2px">25</b>
<span class="n zs" style="left:440.2px">26</span>
<span class="n zs" style="left:497.7px">27</span>
<b class="c l" style="left:561.7px">28</b>
<span class="n zs" style="left:612.7px">29</span>
<b class="c l" style="left:676.7px">30</b>
<span class="n zs" style="left:727.7px">31</span>
<b class="c l" style="left:791.7px">32</b>
<span class="n zs" style="left:842.7px">33</span>
<span class="n zs" style="left:900.2px">34</span>
<b class="c l" style="left:964.2px">35</b>
<span class="n zs" style="left:1015.2px">36</span>
<span class="n zs" style="left:1072.7px">37</span>
<span class="n zs" style="left:1130.2px">38</span>
<b class="c l" style="left:1194.2px">39</b>
<span class="n zs" style="left:1245.2px">40</span>
<span class="n zs" style="left:1302.7px">41</span>
</div>
<div class="row rs" style="top:1985px">
<i class="radio"></i><span class="xh">选号</span>
<span class="n zs" style="left:152.7px">21</span>
<span class="n zs" style="left:210.2px">22</span>
<span class="n zs" style="left:267.7px">23</span>
<span class="n zs" style="left:325.2px">24</span>
<span class="n zs" style="left:382.7px">25</span>
<span class="n zs" style="left:440.2px">26</span>
<span class="n zs" style="left:497.7px">27</span>
<span class="n zs" style="left:555.2px">28</span>
<span class="n zs" style="left:612.7px">29</span>
<span class="n zs" style="left:670.2px">30</span>
<span class="n zs" style="left:727.7px">31</span>
<span class="n zs" style="left:785.2px">32</span>
<span class="n zs" style="left:842.7px">33</span>
<span class="n zs" style="left:900.2px">34</span>
<span class="n zs" style="left:957.7px">35</span>
<span class="n zs" style="left:1015.2px">36</span>
<span class="n zs" style="left:1072.7px">37</span>
<span class="n zs" style="left:1130.2px">38</span>
<span class="n zs" style="left:1187.7px">39</span>
<span class="n zs" style="left:1245.2px">40</span>
<span class="n zs" style="left:1302.7px">41</span>
</div>
<div class="hz" style="top:180px;left:152.7px;width:575px">三区</div>
<div class="hz" style="top:180px;left:727.7px;width:575px">四区</div>
<span class="hn" style="top:230px;left:152.7px">21</span>
<span class="hn" style="top:230px;left:210.2px">22</span>
<span class="hn" style="top:230px;left:267.7px">23</span>
<span class="hn" style="top:230px;left:325.2px">24</span>
<span class="hn" style="top:230px;left:382.7px">25</span>
<span class="hn" style="top:230px;left:440.2px">26</span>
<span class="hn" style="top:230px;left:497.7px">27</span>
<span class="hn" style="top:230px;left:555.2px">28</span>
<span class="hn" style="top:230px;left:612.7px">29</span>
<span class="hn" style="top:230px;left:670.2px">30</span>
<span class="hn" style="top:230px;left:727.7px">31</span>
<span class="hn" style="top:230px;left:785.2px">32</span>
<span class="hn" style="top:230px;left:842.7px">33</span>
<span class="hn" style="top:230px;left:900.2px">34</span>
<span class="hn" style="top:230px;left:957.7px">35</span>
<span class="hn" style="top:230px;left:1015.2px">36</span>
<span class="hn" style="top:230px;left:1072.7px">37</span>
<span class="hn" style="top:230px;left:1130.2px">38</span>
<span class="hn" style="top:230px;left:1187.7px">39</span>
<span class="hn" style="top:230px;left:1245.2px">40</span>
<span class="hn" style="top:230px;left:1302.7px">41</span>
<div class="hz" style="top:2040px;left:152.7px;width:575px">三区</div>
<div class="hz" style="top:2040px;left:727.7px;width:575px">四区</div>
<span class="hn" style="top:2090px;left:152.7px">21</span>
<span class="hn" style="top:2090px;left:210.2px">22</span>
<span class="hn" style="top:2090px;left:267.7px">23</span>
<span class="hn" style="top:2090px;left:325.2px">24</span>
<span class="hn" style="top:2090px;left:382.7px">25</span>
<span class="hn" style="top:2090px;left:440.2px">26</span>
<span class="hn" style="top:2090px;left:497.7px">27</span>
<span class="hn" style="top:2090px;left:555.2px">28</span>
<span class="hn" style="top:2090px;left:612.7px">29</span>
<span class="hn" style="top:2090px;left:670.2px">30</span>
<span class="hn" style="top:2090px;left:727.7px">31</span>
<span class="hn" style="top:2090px;left:785.2px">32</span>
<span class="hn" style="top:2090px;left:842.7px">33</span>
<span class="hn" style="top:2090px;left:900.2px">34</span>
<span class="hn" style="top:2090px;left:957.7px">35</span>
<span class="hn" style="top:2090px;left:1015.2px">36</span>
<span class="hn" style="top:2090px;left:1072.7px">37</span>
<span class="hn" style="top:2090px;left:1130.2px">38</span>
<span class="hn" style="top:2090px;left:1187.7px">39</span>
<span class="hn" style="top:2090px;left:1245.2px">40</span>
<span class="hn" style="top:2090px;left:1302.7px">41</span>
<div class="qc">期次</div><i class="tu"></i><i class="td"></i>
<div class="dash">-</div>
<i class="hl" style="top:554.1px"></i>
<i class="hl" style="top:829.1px"></i>
<i class="hl" style="top:1104.1px"></i>
<i class="hl" style="top:1379.1px"></i>
<i class="hl" style="top:1654.1px"></i>
<i class="hh" style="top:229px"></i>
<i class="hh" style="top:2089px"></i>
<svg class="ic" style="left:0;top:0" width="1371" height="2108" viewBox="0 0 1371 2108">
<rect x="208.95" y="231" width="2.5" height="49" fill="#c0c0c0"/>
<rect x="209.15" y="280" width="2.1" height="1650" fill="#dddddd"/>
<rect x="209.15" y="1930" width="2.1" height="110" fill="#e8dcd8"/>
<rect x="208.95" y="2091" width="2.5" height="17" fill="#c0c0c0"/>
<rect x="266.45" y="231" width="2.5" height="49" fill="#c0c0c0"/>
<rect x="266.65" y="280" width="2.1" height="1650" fill="#dddddd"/>
<rect x="266.65" y="1930" width="2.1" height="110" fill="#e8dcd8"/>
<rect x="266.45" y="2091" width="2.5" height="17" fill="#c0c0c0"/>
<rect x="323.95" y="231" width="2.5" height="49" fill="#c0c0c0"/>
<rect x="324.15" y="280" width="2.1" height="1650" fill="#dddddd"/>
<rect x="324.15" y="1930" width="2.1" height="110" fill="#e8dcd8"/>
<rect x="323.95" y="2091" width="2.5" height="17" fill="#c0c0c0"/>
<rect x="381.45" y="231" width="2.5" height="49" fill="#c0c0c0"/>
<rect x="381.65" y="280" width="2.1" height="1650" fill="#dddddd"/>
<rect x="381.65" y="1930" width="2.1" height="110" fill="#e8dcd8"/>
<rect x="381.45" y="2091" width="2.5" height="17" fill="#c0c0c0"/>
<rect x="438.95" y="231" width="2.5" height="49" fill="#c0c0c0"/>
<rect x="439.15" y="280" width="2.1" height="1650" fill="#dddddd"/>
<rect x="439.15" y="1930" width="2.1" height="110" fill="#e8dcd8"/>
<rect x="438.95" y="2091" width="2.5" height="17" fill="#c0c0c0"/>
<rect x="496.45" y="231" width="2.5" height="49" fill="#c0c0c0"/>
<rect x="496.65" y="280" width="2.1" height="1650" fill="#dddddd"/>
<rect x="496.65" y="1930" width="2.1" height="110" fill="#e8dcd8"/>
<rect x="496.45" y="2091" width="2.5" height="17" fill="#c0c0c0"/>
<rect x="553.95" y="231" width="2.5" height="49" fill="#c0c0c0"/>
<rect x="554.15" y="280" width="2.1" height="1650" fill="#dddddd"/>
<rect x="554.15" y="1930" width="2.1" height="110" fill="#e8dcd8"/>
<rect x="553.95" y="2091" width="2.5" height="17" fill="#c0c0c0"/>
<rect x="611.45" y="231" width="2.5" height="49" fill="#c0c0c0"/>
<rect x="611.65" y="280" width="2.1" height="1650" fill="#dddddd"/>
<rect x="611.65" y="1930" width="2.1" height="110" fill="#e8dcd8"/>
<rect x="611.45" y="2091" width="2.5" height="17" fill="#c0c0c0"/>
<rect x="668.95" y="231" width="2.5" height="49" fill="#c0c0c0"/>
<rect x="669.15" y="280" width="2.1" height="1650" fill="#dddddd"/>
<rect x="669.15" y="1930" width="2.1" height="110" fill="#e8dcd8"/>
<rect x="668.95" y="2091" width="2.5" height="17" fill="#c0c0c0"/>
<rect x="725.4" y="180" width="4.6" height="1928" fill="#c4c4c4"/>
<rect x="783.95" y="231" width="2.5" height="49" fill="#c0c0c0"/>
<rect x="784.15" y="280" width="2.1" height="1650" fill="#dddddd"/>
<rect x="784.15" y="1930" width="2.1" height="110" fill="#e8dcd8"/>
<rect x="783.95" y="2091" width="2.5" height="17" fill="#c0c0c0"/>
<rect x="841.45" y="231" width="2.5" height="49" fill="#c0c0c0"/>
<rect x="841.65" y="280" width="2.1" height="1650" fill="#dddddd"/>
<rect x="841.65" y="1930" width="2.1" height="110" fill="#e8dcd8"/>
<rect x="841.45" y="2091" width="2.5" height="17" fill="#c0c0c0"/>
<rect x="898.95" y="231" width="2.5" height="49" fill="#c0c0c0"/>
<rect x="899.15" y="280" width="2.1" height="1650" fill="#dddddd"/>
<rect x="899.15" y="1930" width="2.1" height="110" fill="#e8dcd8"/>
<rect x="898.95" y="2091" width="2.5" height="17" fill="#c0c0c0"/>
<rect x="956.45" y="231" width="2.5" height="49" fill="#c0c0c0"/>
<rect x="956.65" y="280" width="2.1" height="1650" fill="#dddddd"/>
<rect x="956.65" y="1930" width="2.1" height="110" fill="#e8dcd8"/>
<rect x="956.45" y="2091" width="2.5" height="17" fill="#c0c0c0"/>
<rect x="1013.95" y="231" width="2.5" height="49" fill="#c0c0c0"/>
<rect x="1014.15" y="280" width="2.1" height="1650" fill="#dddddd"/>
<rect x="1014.15" y="1930" width="2.1" height="110" fill="#e8dcd8"/>
<rect x="1013.95" y="2091" width="2.5" height="17" fill="#c0c0c0"/>
<rect x="1071.45" y="231" width="2.5" height="49" fill="#c0c0c0"/>
<rect x="1071.65" y="280" width="2.1" height="1650" fill="#dddddd"/>
<rect x="1071.65" y="1930" width="2.1" height="110" fill="#e8dcd8"/>
<rect x="1071.45" y="2091" width="2.5" height="17" fill="#c0c0c0"/>
<rect x="1128.95" y="231" width="2.5" height="49" fill="#c0c0c0"/>
<rect x="1129.15" y="280" width="2.1" height="1650" fill="#dddddd"/>
<rect x="1129.15" y="1930" width="2.1" height="110" fill="#e8dcd8"/>
<rect x="1128.95" y="2091" width="2.5" height="17" fill="#c0c0c0"/>
<rect x="1186.45" y="231" width="2.5" height="49" fill="#c0c0c0"/>
<rect x="1186.65" y="280" width="2.1" height="1650" fill="#dddddd"/>
<rect x="1186.65" y="1930" width="2.1" height="110" fill="#e8dcd8"/>
<rect x="1186.45" y="2091" width="2.5" height="17" fill="#c0c0c0"/>
<rect x="1243.95" y="231" width="2.5" height="49" fill="#c0c0c0"/>
<rect x="1244.15" y="280" width="2.1" height="1650" fill="#dddddd"/>
<rect x="1244.15" y="1930" width="2.1" height="110" fill="#e8dcd8"/>
<rect x="1243.95" y="2091" width="2.5" height="17" fill="#c0c0c0"/>
<rect x="1300.4" y="180" width="4.6" height="1928" fill="#c4c4c4"/>
<rect x="1358.95" y="231" width="2.5" height="49" fill="#c0c0c0"/>
<rect x="1359.15" y="280" width="2.1" height="1650" fill="#dddddd"/>
<rect x="1359.15" y="1930" width="2.1" height="110" fill="#e8dcd8"/>
<rect x="1358.95" y="2091" width="2.5" height="17" fill="#c0c0c0"/>
</svg>
<i class="v0" style="top:180px;height:1928px"></i>
<i class="v0h" style="top:180px;height:100px"></i>
<i class="v0h" style="top:2040px;height:68px"></i>
<i class="hh" style="top:229px"></i>
<i class="hh" style="top:2089px"></i>
<svg class="ic" style="left:0;top:0" width="1371" height="2108" viewBox="0 0 1371 2108" fill="none" stroke="#1565c0" stroke-width="4.8">
<rect x="322.9" y="1650.9" width="55.7" height="331.7"/>
<rect x="382.4" y="1877.7" width="55.9" height="105.9"/>
<rect x="556.3" y="1823.3" width="58.2" height="163.5"/>
<rect x="671.5" y="1711.3" width="58.2" height="266.7"/>
<rect x="787.4" y="1706.9" width="54.1" height="271.7"/>
<rect x="955.2" y="1490.2" width="62.4" height="491.4"/>
<rect x="1183.5" y="1874.4" width="63" height="114.8"/>
</svg>
<i class="btm"></i>
</div>
</body>
</html>
